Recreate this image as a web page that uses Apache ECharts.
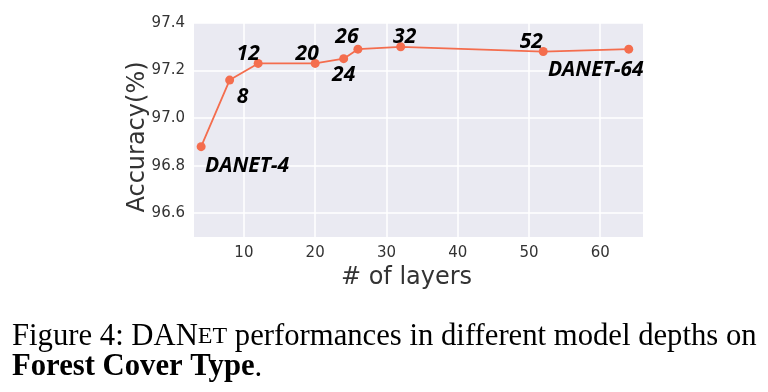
<!DOCTYPE html>
<html lang="en">
<head>
	<meta charset="UTF-8">
	<title>DANet depth</title>
	<style>
	body, div {
		margin: 0;
		padding: 0;
	}
	#chart {
		width: 768px;
		height: 392px;
	}
	</style>
</head>
<body>
	<div id="chart"></div>

	<script src="https://cdn.jsdelivr.net/npm/echarts@6/dist/echarts.min.js"></script>
	<script>

	// layers and accuracy
	var layers = [4, 8, 12, 20, 24, 26, 32, 52, 64];
	var accuracy = [96.88, 97.16, 97.23, 97.23, 97.25, 97.29, 97.30, 97.28, 97.29];
	var pointNames = ['DANET-4', '8', '12', '20', '24', '26', '32', '52', 'DANET-64'];
	var xTicks = [10, 20, 30, 40, 50, 60];
	var yTicks = [96.6, 96.8, 97.0, 97.2, 97.4];

	// where each name sits relative to its dot
	var labelOffsets = [[46, 19], [13, 17], [-10, -9], [-8, -9], [0, 16], [-11, -12], [4, -10], [-12, -10], [-33, 21]];

	var data = [];
	for (var i = 0; i < layers.length; i++) {
		data.push({
			value: [layers[i], accuracy[i]],
			label: {
				formatter: pointNames[i],
				offset: labelOffsets[i]
			}
		});
	}

	var tickFont = {
		fontFamily: 'DejaVu Sans',
		fontSize: 15,
		color: '#333'
	};

	var chart = echarts.init(document.getElementById('chart'));

	chart.setOption({
		animation: false,
		backgroundColor: '#fff',
		title: {
			left: 7,
			top: 316,
			text: '{n|Figure 4: DAN}{s|ET}{n| performances in different model depths on}\n{b|Forest Cover Type}{n|.}',
			textStyle: {
				fontWeight: 'normal',
				rich: {
					n: {fontFamily: 'Liberation Serif', fontSize: 30.7, lineHeight: 31, fontWeight: 'normal', color: '#000'},
					s: {fontFamily: 'Liberation Serif', fontSize: 24, lineHeight: 31, fontWeight: 'normal', color: '#000'},
					b: {fontFamily: 'Liberation Serif', fontSize: 30.7, lineHeight: 31, fontWeight: 'bold', color: '#000'}
				}
			}
		},
		grid: {
			left: 194,
			right: 125,
			top: 23,
			bottom: 155,
			show: true,
			backgroundColor: '#eaeaf2',
			borderWidth: 0
		},
		xAxis: {
			type: 'value',
			min: 3,
			max: 66,
			name: '# of layers',
			nameLocation: 'middle',
			nameGap: 21,
			nameTextStyle: {
				fontFamily: 'DejaVu Sans',
				fontSize: 24,
				color: '#333',
				padding: [0, 24, 0, 0]
			},
			axisLine: {show: false},
			axisTick: {show: false, customValues: xTicks},
			axisLabel: Object.assign({customValues: xTicks, margin: 9}, tickFont),
			splitLine: {lineStyle: {color: '#fff', width: 1.5}}
		},
		yAxis: {
			type: 'value',
			min: 96.5,
			max: 97.4,
			name: 'Accuracy(%)',
			nameLocation: 'middle',
			nameMoveOverlap: false,
			nameGap: 44,
			nameTextStyle: {
				fontFamily: 'DejaVu Sans',
				fontSize: 24,
				color: '#333',
				padding: [0, 14, 0, 0]
			},
			axisLine: {show: false},
			axisTick: {show: false, customValues: yTicks},
			axisLabel: Object.assign({
				customValues: yTicks,
				margin: 9,
				formatter: function(v) { return v.toFixed(1); }
			}, tickFont),
			splitLine: {lineStyle: {color: '#fff', width: 1.5}}
		},
		series: [{
			type: 'line',
			data: data,
			symbol: 'circle',
			symbolSize: 9,
			lineStyle: {color: '#f46d4e', width: 1.8},
			itemStyle: {color: '#f46d4e'},
			label: {
				show: true,
				position: 'inside',
				fontFamily: 'Open Sans',
				fontSize: 21,
				fontWeight: 'bold',
				fontStyle: 'italic',
				color: '#000'
			}
		}]
	});

	</script>
</body>
</html>
